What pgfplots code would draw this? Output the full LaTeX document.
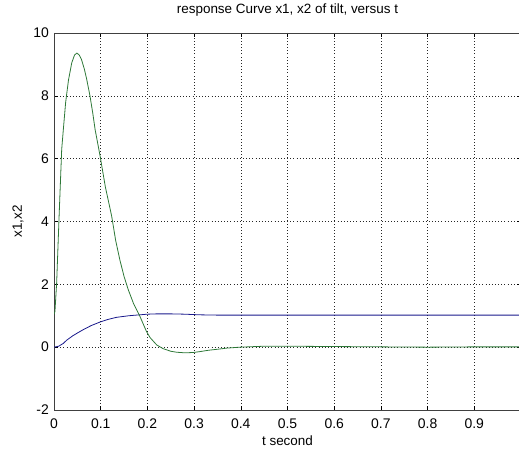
\documentclass[border=0pt]{standalone}
\usepackage{pgfplots}
\pgfplotsset{compat=1.18}
\usepackage{fontspec}
\setmainfont{Liberation Sans}
\definecolor{mblue}{RGB}{25,25,140}
\definecolor{mgreen}{RGB}{45,120,55}
\begin{document}
\begin{tikzpicture}
\path[use as bounding box] (-54bp,-43bp) rectangle (465bp,410bp);
\clip (-54bp,-43bp) rectangle (465bp,410bp);
\begin{axis}[
  at={(0,0)}, anchor=south west,
  scale only axis, width=467bp, height=377bp,
  xmin=0, xmax=1, ymin=-2, ymax=10,
  xtick={0,0.1,0.2,0.3,0.4,0.5,0.6,0.7,0.8,0.9,1},
  xticklabels={0,0.1,0.2,0.3,0.4,0.5,0.6,0.7,0.8,0.9,{}},
  ytick={-2,0,2,4,6,8,10},
  yticklabels={-2,0,2,4,6,8,10},
  tick pos=both, tick align=inside,
  major tick length=4bp,
  tick style={black, line width=0.6bp},
  grid=major,
  grid style={black!85, line width=0.55bp, dash pattern=on 0.55bp off 2.6bp},
  axis line style={black!75, line width=0.9bp},
  font=\fontsize{13.5}{16}\selectfont,
  ticklabel style={font=\fontsize{14}{16}\selectfont},
  /pgf/number format/assume math mode=true,
  xticklabel style={anchor=base, yshift=-18.5bp},
  yticklabel style={anchor=east, inner sep=0pt, xshift=-5bp},
  title={response Curve x1, x2 of tilt, versus t},
  title style={at={(axis description cs:0.5,1)}, anchor=base, yshift=13.5bp, inner sep=0pt},
  xlabel={t second},
  xlabel style={at={(axis description cs:0.5,0)}, anchor=base, yshift=-35.5bp, inner sep=0pt},
  ylabel={x1,x2},
  ylabel style={at={(axis description cs:-0.077,0.5)}, anchor=center, inner sep=0pt},
]
\addplot[mblue, line width=0.8bp] coordinates {
(0,0) (0.01,0.03) (0.02,0.12) (0.027,0.22) (0.04,0.36) (0.05,0.45) (0.063,0.56)
(0.08,0.69) (0.0985,0.8) (0.115,0.88) (0.134,0.95) (0.16,1.0) (0.184,1.03)
(0.2,1.05) (0.22,1.06) (0.25,1.06) (0.28,1.05) (0.31,1.03) (0.35,1.02)
(0.4,1.02) (0.5,1.02) (0.7,1.02) (1.0,1.02)
};
\addplot[mgreen, line width=0.8bp] coordinates {
(0,1.05) (0.002,1.13) (0.0057,2.05) (0.011,4.2) (0.0165,6.3) (0.02,6.93)
(0.025,7.8) (0.031,8.5) (0.038,9.05) (0.044,9.3) (0.049,9.36) (0.054,9.3)
(0.059,9.15) (0.065,8.85) (0.07,8.53) (0.077,8.0) (0.083,7.45) (0.088,6.93)
(0.0985,6.1) (0.11,5.1) (0.1235,4.17) (0.132,3.4) (0.141,2.78) (0.15,2.25)
(0.159,1.83) (0.17,1.4) (0.184,0.98) (0.198,0.5) (0.206,0.3) (0.22,0.07)
(0.234,-0.05) (0.25,-0.13) (0.262,-0.16) (0.28,-0.18) (0.298,-0.17)
(0.313,-0.14) (0.33,-0.1) (0.348,-0.07) (0.37,-0.03) (0.398,0) (0.45,0.03)
(0.5,0.03) (0.6,0.02) (0.7,0.01) (0.8,0.0) (0.9,0.01) (1.0,0.01)
};
\end{axis}
\end{tikzpicture}
\end{document}
